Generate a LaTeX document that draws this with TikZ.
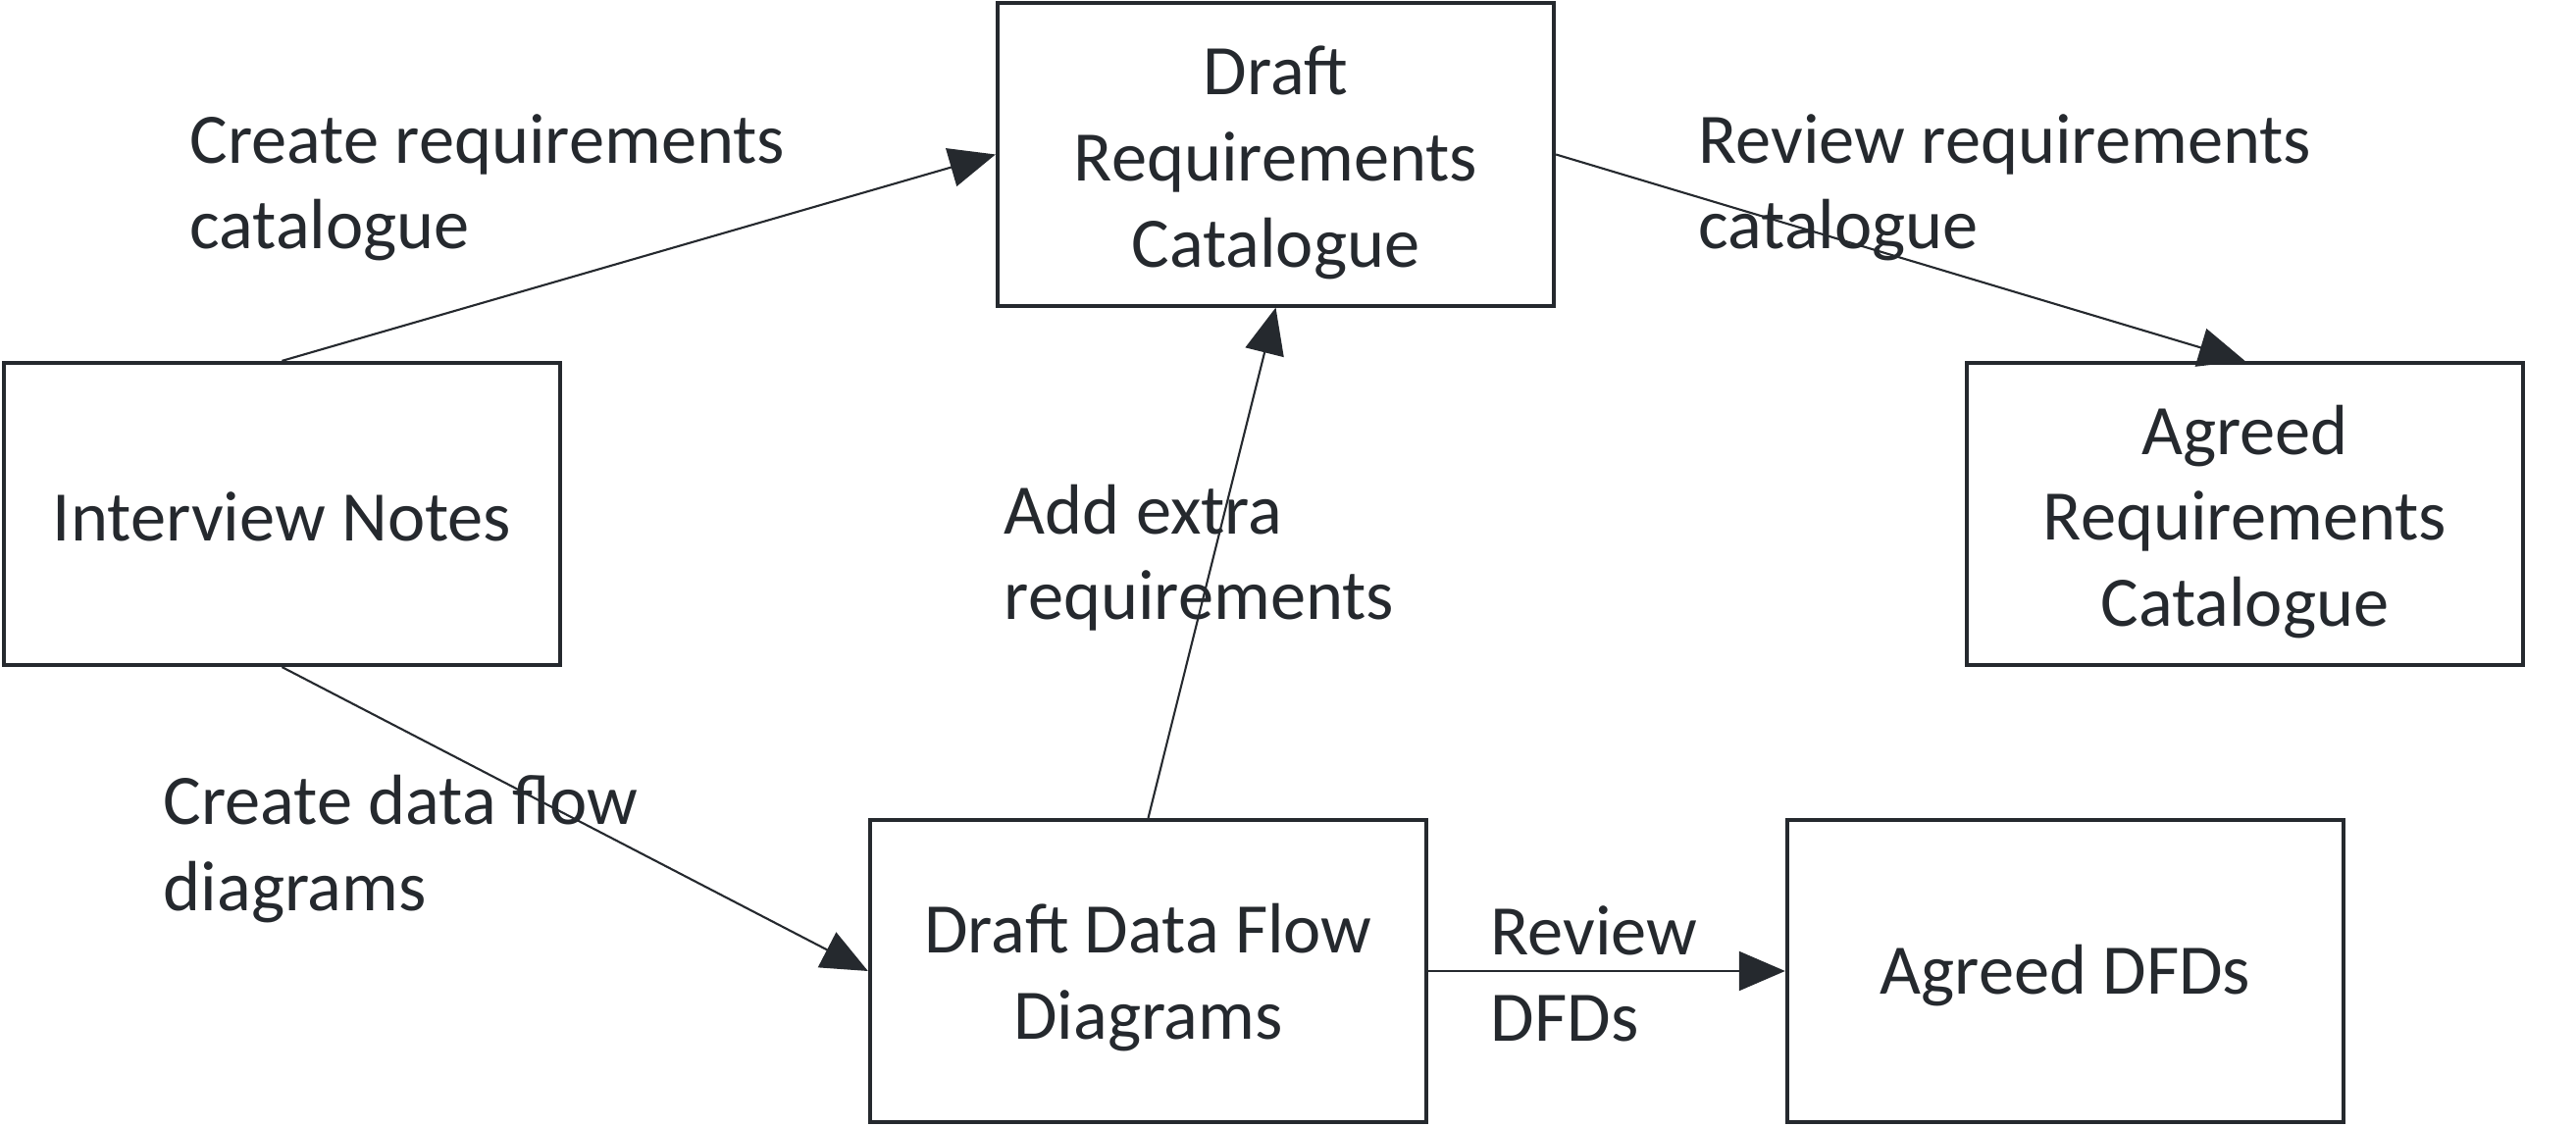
\documentclass[tikz,border=0pt]{standalone}
\usepackage{fontspec}
\setmainfont{Carlito}
\usetikzlibrary{arrows.meta}
\definecolor{ink}{RGB}{37,41,46}
\begin{document}
\begin{tikzpicture}[x=0.01cm,y=-0.01cm,
  font=\fontsize{20.6}{25}\selectfont,
  box/.style={draw=ink,line width=1.15pt,minimum width=5.67cm,minimum height=3.08cm,inner sep=0pt},
  btxt/.style={align=center,inner sep=0pt,text=ink},
  lbl/.style={align=left,inner sep=0pt,anchor=base west,text=ink},
  flow/.style={draw=ink,line width=0.6pt,-{Triangle[length=0.47cm,width=0.4cm]}}]
\useasboundingbox (0,0) rectangle (2626,1149);
\node[box] (drc) at (1300.5,157.5) {};
\node[box] (in) at (287.5,524) {};
\node[box] (arc) at (2288.5,524) {};
\node[box] (ddfd) at (1170.5,990) {};
\node[box] (adfd) at (2105.5,990) {};
\node[btxt] (drct) at ([yshift=-0.08cm]drc.center) {Draft\\Requirements\\Catalogue};
\node[btxt] (int) at ([yshift=-0.03cm]in.center) {Interview Notes};
\node[btxt] (arct) at ([yshift=-0.08cm]arc.center) {Agreed\\Requirements\\Catalogue};
\node[btxt] (ddfdt) at ([yshift=-0.07cm]ddfd.center) {Draft Data Flow\\Diagrams};
\node[btxt] (adfdt) at ([yshift=-0.05cm]adfd.center) {Agreed DFDs};
\draw[flow] (in.north) -- (drc.west);
\draw[flow] (drc.east) -- (arc.north);
\draw[flow] (in.south) -- (ddfd.west);
\draw[flow] (ddfd.north) -- (drc.south);
\draw[flow] (ddfd.east) -- (adfd.west);
\node[lbl] (l1) at (193,254) {Create requirements\\catalogue};
\node[lbl] (l2) at (1731,254) {Review requirements\\catalogue};
\node[lbl] (l3) at (1023,632) {Add extra\\requirements};
\node[lbl] (l4) at (166,928) {Create data flow\\diagrams};
\node[lbl] (l5) at (1519,1061) {Review\\DFDs};
\end{tikzpicture}
\end{document}
